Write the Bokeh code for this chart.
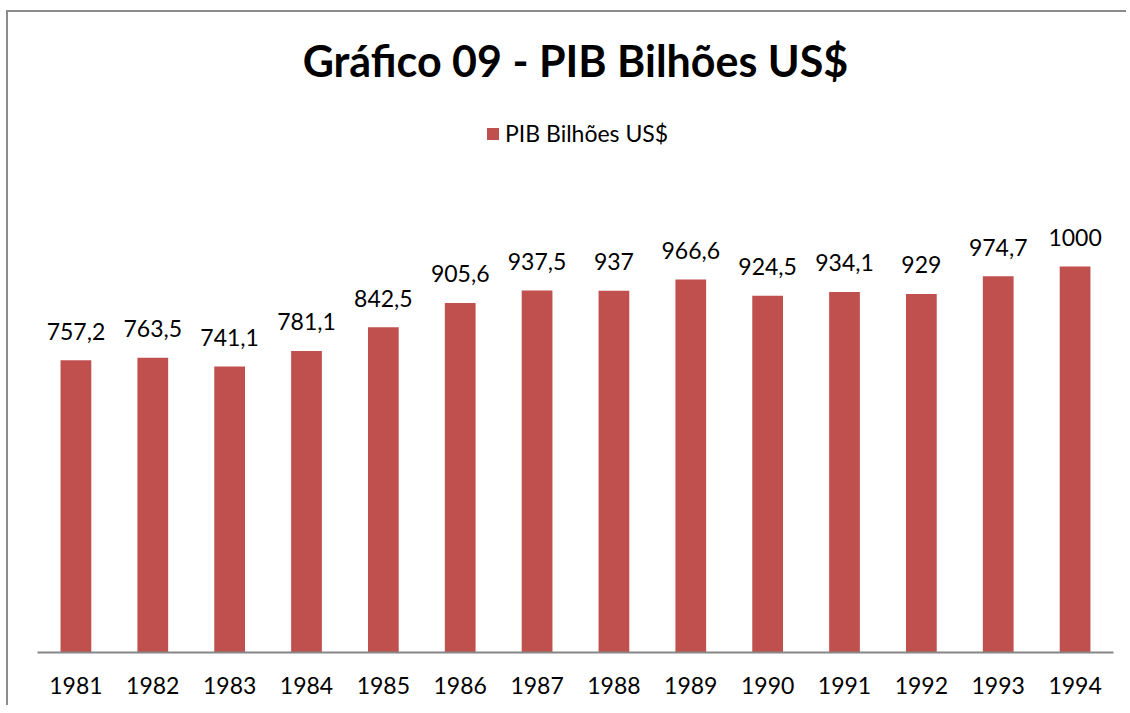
from bokeh.plotting import figure
from bokeh.models import ColumnDataSource, FactorRange, Range1d, Label, Legend, LegendItem
from bokeh.core.properties import value
from bokeh.embed import file_html
from bokeh.resources import INLINE

years = ["1981", "1982", "1983", "1984", "1985", "1986", "1987",
         "1988", "1989", "1990", "1991", "1992", "1993", "1994"]
pib = [757.2, 763.5, 741.1, 781.1, 842.5, 905.6, 937.5,
       937.0, 966.6, 924.5, 934.1, 929.0, 974.7, 1000.0]

def fmt(v):
    s = ("%.1f" % v)
    if s.endswith(".0"):
        s = s[:-2]
    return s.replace(".", ",")

labels = [fmt(v) for v in pib]
src = ColumnDataSource(dict(year=years, pib=pib, lab=labels))

FONT = "Lato"
W, H = 1120, 695
p = figure(width=W, height=H, x_range=FactorRange(*years, range_padding=0),
           y_range=Range1d(0, 1658), output_backend="svg", toolbar_location=None,
           y_axis_location=None, min_border_left=29, min_border_right=15,
           min_border_top=0, min_border_bottom=55)
p.styles = {"border-left": "2px solid #8c8c8c", "border-top": "2px solid #8c8c8c",
            "margin-left": "6px", "margin-top": "10px"}
p.outline_line_color = None
p.xgrid.grid_line_color = None
p.ygrid.grid_line_color = None

bars = p.vbar(x="year", top="pib", width=0.4, source=src,
              fill_color="#C0504D", line_color=None)

p.text(x="year", y="pib", text="lab", source=src, y_offset=-29,
       text_align="center", text_baseline="alphabetic",
       text_font=value(FONT), text_font_size="23px", text_color="#000000")

ax = p.xaxis[0]
ax.axis_line_color = "#868686"
ax.axis_line_width = 2
ax.major_tick_line_color = None
ax.minor_tick_line_color = None
ax.major_label_text_font = FONT
ax.major_label_text_font_size = "23px"
ax.major_label_text_color = "#000000"
ax.major_label_standoff = 18

title = Label(x=538, y=592, x_units="screen", y_units="screen",
              text="Gráfico 09 - PIB Bilhões US$", text_align="center",
              text_baseline="alphabetic", text_font=FONT,
              text_font_style="bold", text_font_size="43px", text_color="#000000")
p.add_layout(title)

legend = Legend(items=[LegendItem(label="PIB Bilhões US$", renderers=[bars])],
                location=(448, 505), orientation="horizontal",
                padding=0, margin=0, spacing=0, label_standoff=5,
                glyph_width=15, glyph_height=15,
                label_text_font=FONT, label_text_font_size="23px",
                label_text_color="#000000",
                border_line_color=None, background_fill_alpha=0)
p.add_layout(legend)

open("out.html", "w").write(file_html(p, INLINE))
